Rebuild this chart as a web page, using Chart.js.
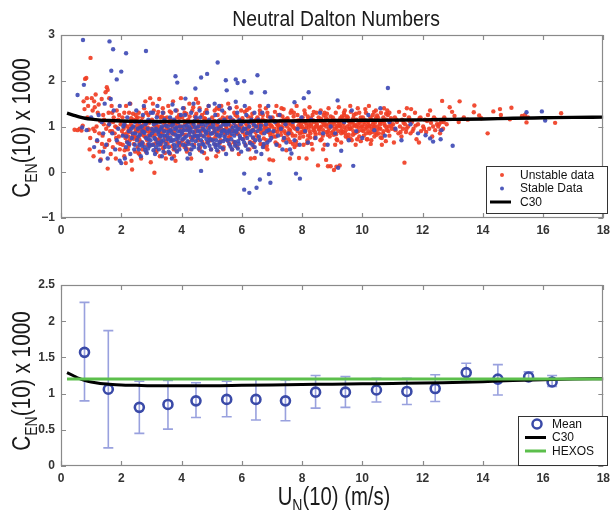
<!DOCTYPE html>
<html><head><meta charset="utf-8">
<script src="https://cdn.jsdelivr.net/npm/chart.js@4/dist/chart.umd.min.js"></script>
<style>html,body{margin:0;padding:0;background:#fff;}#wrap{position:relative;width:615px;height:510px;overflow:hidden;}canvas{position:absolute;left:0;}</style>
</head><body><div id="wrap"><canvas id="cTop" width="615" height="255" style="top:0"></canvas><canvas id="cBot" width="615" height="255" style="top:255px"></canvas></div>
<script>
const chartTitle = 'Neutral Dalton Numbers';
const xTickVals = [0,2,4,6,8,10,12,14,16,18];
const yTickTop = [-1,0,1,2,3];
const yTickBot = [0,0.5,1,1.5,2,2.5];
const legendTop = ['Unstable data','Stable Data','C30'];
const legendBot = ['Mean','C30','HEXOS'];

// C30 curve
const c30U = [0.2,0.4,0.6,0.8,1.0,1.3,1.6,2,2.5,3,4,5,6,7,8,9,10,11,12,13,14,15,16,17,18];
const c30C = [1.29,1.25,1.21,1.18,1.16,1.14,1.13,1.12,1.115,1.11,1.11,1.11,1.115,1.12,1.125,1.13,1.135,1.14,1.145,1.155,1.165,1.18,1.19,1.2,1.205];
// HEXOS
const hexosU = [0.2,18];
const hexosC = [1.2,1.2];
// bin means with error bars
const meanU = [0.78,1.57,2.6,3.55,4.48,5.5,6.47,7.45,8.45,9.44,10.47,11.48,12.42,13.45,14.5,15.52,16.3];
const meanC = [1.57,1.06,0.81,0.85,0.90,0.92,0.92,0.90,1.02,1.02,1.05,1.03,1.07,1.29,1.20,1.23,1.16];
const errHi = [2.26,1.87,1.17,1.18,1.15,1.17,1.20,1.19,1.25,1.235,1.21,1.21,1.26,1.42,1.40,1.30,1.25];
const errLo = [0.90,0.25,0.45,0.51,0.67,0.68,0.635,0.625,0.80,0.81,0.885,0.85,0.89,1.17,0.98,1.19,1.10];

// unstable data [U, C]
const unstableA = [[0.45,0.93],[0.55,0.92],[0.62,0.95],[0.68,0.91],[0.72,1.02],[0.78,1.38],[0.8,2.04],[0.84,2.06],[0.86,1.62],[0.9,1.45],[0.92,0.93],[0.95,0.5],[0.98,2.5],[0.75,1.55],[0.88,1.2],[0.97,0.75],
[1.02,1.62],[1.05,1.35],[1.08,0.35],[1.1,1.55],[1.12,0.9],[1.15,1.7],[1.18,1.0],[1.2,0.68],[1.22,1.3],[1.25,1.48],[1.28,0.45],[1.3,1.12],[1.32,0.28],[1.35,1.6],[1.38,0.8],[1.4,1.25],[1.42,1.05],[1.45,0.55],[1.48,1.75],[1.5,0.95],[1.12,1.42],[1.36,0.62],
[1.52,1.86],[1.55,1.8],[1.55,0.08],[1.58,1.3],[1.6,0.7],[1.62,1.1],[1.65,0.4],[1.68,1.45],[1.7,0.9],[1.72,0.55],[1.75,1.2],[1.78,0.85],[1.8,1.0],[1.82,0.3],[1.85,1.35],[1.88,0.65],[1.9,1.15],[1.92,0.78],[1.95,0.5],[1.98,1.05],[1.6,1.62],[1.7,1.3],[1.85,0.98],
[2.02,0.9],[2.04,1.2],[2.05,0.6],[2.08,0.95],[2.1,0.35],[2.12,1.1],[2.14,0.75],[2.16,1.45],[2.18,0.85],[2.2,1.0],[2.22,0.5],[2.24,0.92],[2.26,1.3],[2.28,0.7],[2.3,0.88],[2.32,1.05],[2.34,0.25],[2.36,0.06],[2.38,0.8],[2.4,1.15],[2.42,0.62],[2.44,0.97],[2.46,0.45],[2.48,1.25],[2.1,1.3],[2.25,0.58],[2.35,1.0],[2.45,0.78],[2.15,0.2],[2.3,1.5],
[2.5,0.9],[2.52,1.1],[2.54,0.55],[2.56,0.95],[2.58,1.3],[2.6,0.72],[2.62,0.88],[2.64,1.02],[2.66,0.3],[2.68,0.84],[2.7,1.2],[2.72,0.62],[2.74,0.96],[2.76,1.4],[2.78,0.78],[2.8,0.92],[2.82,0.45],[2.84,1.08],[2.86,0.7],[2.88,0.98],[2.9,1.25],[2.92,0.58],[2.94,0.86],[2.96,1.62],[2.98,0.22],[2.55,1.2],[2.65,0.66],[2.75,1.05],[2.85,0.9],[2.95,1.12],[2.6,0.4],[2.8,1.55],[2.7,0.5],[2.9,0.8],[2.52,0.75],
[3.0,0.95],[3.02,1.15],[3.04,0.6],[3.06,0.9],[3.08,1.35],[3.1,-0.01],[3.12,0.82],[3.14,1.05],[3.16,0.48],[3.18,0.92],[3.2,1.25],[3.22,0.7],[3.24,1.0],[3.26,1.6],[3.28,0.35],[3.3,0.86],[3.32,1.1],[3.34,0.65],[3.36,0.97],[3.38,1.4],[3.4,0.55],[3.42,0.9],[3.44,1.18],[3.46,0.76],[3.48,1.02],[3.05,1.5],[3.15,0.72],[3.25,0.88],[3.35,1.22],[3.45,0.42],[3.1,1.02],[3.3,0.6],[3.2,0.95],[3.4,1.3],[3.48,0.3],
[3.5,0.95],[3.52,1.2],[3.54,0.62],[3.56,1.45],[3.58,0.85],[3.6,1.05],[3.62,0.4],[3.64,0.92],[3.66,1.3],[3.68,0.7],[3.7,1.0],[3.72,1.55],[3.74,0.5],[3.76,0.88],[3.78,1.12],[3.8,0.25],[3.82,0.96],[3.84,1.35],[3.86,0.66],[3.88,1.04],[3.9,0.8],[3.92,1.25],[3.94,0.58],[3.96,0.98],[3.98,1.62],[3.55,0.75],[3.65,1.1],[3.75,0.35],[3.85,1.2],[3.95,0.9]];
const unstableB = [[4.0,1.0],[4.02,1.2],[4.04,0.7],[4.06,0.92],[4.08,1.4],[4.1,0.55],[4.12,1.05],[4.14,0.82],[4.16,1.28],[4.18,0.45],[4.2,0.95],[4.22,1.15],[4.24,0.66],[4.26,1.5],[4.28,0.88],[4.3,1.08],[4.32,0.3],[4.34,0.98],[4.36,1.35],[4.38,0.75],[4.4,1.02],[4.42,0.6],[4.44,1.22],[4.46,0.9],[4.48,1.6],[4.1,1.3],[4.3,0.5],[4.45,0.78],
[4.5,0.95],[4.52,1.15],[4.55,0.7],[4.58,1.05],[4.6,1.4],[4.62,0.55],[4.65,0.9],[4.68,1.25],[4.7,0.8],[4.72,1.0],[4.75,0.42],[4.78,1.3],[4.8,0.88],[4.82,1.1],[4.85,0.65],[4.88,0.97],[4.9,1.45],[4.92,0.76],[4.95,1.05],[4.98,0.5],[4.6,1.0],[4.75,1.18],[4.9,0.85],[4.55,1.52],[4.85,0.3],
[5.0,1.0],[5.02,1.2],[5.05,0.72],[5.08,0.95],[5.1,1.35],[5.12,0.6],[5.15,1.08],[5.18,0.85],[5.2,1.25],[5.22,0.45],[5.25,0.98],[5.28,1.15],[5.3,0.7],[5.32,1.45],[5.35,0.9],[5.38,1.05],[5.4,0.55],[5.42,1.3],[5.45,0.82],[5.48,1.0],[5.1,0.88],[5.25,1.38],[5.4,0.92],[5.15,0.35],[5.45,1.15],
[5.5,0.95],[5.52,1.2],[5.55,0.68],[5.58,1.05],[5.6,1.4],[5.62,0.8],[5.65,1.0],[5.68,0.5],[5.7,1.15],[5.72,0.9],[5.75,1.3],[5.78,0.62],[5.8,1.02],[5.82,0.85],[5.85,1.22],[5.88,0.96],[5.9,0.4],[5.92,1.1],[5.95,0.75],[5.98,1.35],[5.6,0.88],[5.75,1.08],[5.9,0.98],[5.55,1.5],[5.85,0.55],
[6.0,1.0],[6.02,1.18],[6.05,0.72],[6.08,0.94],[6.1,1.32],[6.12,0.6],[6.15,1.05],[6.18,0.85],[6.2,1.22],[6.22,0.98],[6.25,0.5],[6.28,1.1],[6.3,0.3],[6.32,0.9],[6.35,1.28],[6.38,0.75],[6.4,1.02],[6.43,0.31],[6.45,0.88],[6.48,1.15],[6.1,0.82],[6.25,1.4],[6.4,0.65],[6.15,0.95],[6.35,1.08],
[6.5,1.0],[6.52,1.2],[6.55,0.75],[6.58,0.95],[6.6,1.35],[6.62,0.62],[6.65,1.05],[6.68,0.85],[6.7,1.25],[6.72,0.92],[6.75,0.55],[6.78,1.12],[6.8,0.98],[6.82,0.7],[6.85,1.3],[6.88,0.88],[6.9,1.05],[6.92,0.28],[6.95,0.8],[6.98,1.18],[6.6,1.45],[6.7,0.6],[6.8,1.4],[6.9,0.95],[6.55,1.1],[6.75,1.0],[6.85,0.5],
[7.0,1.0],[7.02,1.2],[7.04,0.26],[7.06,0.78],[7.08,0.95],[7.1,1.32],[7.12,0.65],[7.15,1.06],[7.18,0.88],[7.2,1.25],[7.22,0.95],[7.25,0.58],[7.28,1.12],[7.3,0.82],[7.32,1.4],[7.35,0.98],[7.38,0.7],[7.4,1.15],[7.42,0.9],[7.45,1.05],[7.48,0.48],[7.1,0.9],[7.2,1.05],[7.3,1.0],[7.4,0.75],[7.15,1.45],[7.35,1.22],[7.45,0.85],
[7.5,1.0],[7.52,1.18],[7.55,0.72],[7.58,0.94],[7.6,0.3],[7.62,1.3],[7.65,0.85],[7.68,1.05],[7.7,0.62],[7.72,1.22],[7.75,0.96],[7.78,0.8],[7.8,1.12],[7.82,1.45],[7.85,0.9],[7.88,1.02],[7.9,0.31],[7.92,0.75],[7.95,1.15],[7.98,0.88],[7.55,1.08],[7.65,1.35],[7.75,0.55],[7.85,1.25],[7.95,0.98],[7.6,0.92],[7.8,0.68],[7.7,1.0],[7.9,1.1],[7.52,0.82]];
const unstableC = [[8.0,1.0],[8.02,1.2],[8.04,0.78],[8.06,0.95],[8.08,1.35],[8.1,0.88],[8.12,1.08],[8.15,0.3],[8.18,0.7],[8.2,1.15],[8.22,0.98],[8.25,1.42],[8.28,0.85],[8.3,1.05],[8.32,0.62],[8.35,1.25],[8.38,0.92],[8.4,1.1],[8.42,0.75],[8.45,1.0],[8.48,1.3],[8.05,0.6],[8.15,1.02],[8.25,0.9],[8.35,0.5],[8.45,0.82],[8.1,1.28],[8.3,1.18],[8.4,0.96],[8.2,0.8],
[8.5,1.02],[8.53,0.15],[8.55,1.2],[8.58,0.85],[8.6,0.98],[8.62,1.35],[8.65,0.72],[8.68,1.1],[8.7,0.92],[8.72,1.25],[8.75,0.6],[8.78,1.05],[8.8,0.27],[8.82,0.88],[8.85,1.15],[8.86,0.13],[8.88,1.4],[8.9,0.96],[8.92,0.78],[8.95,0.13],[8.98,1.08],[8.55,0.95],[8.65,1.0],[8.75,1.3],[8.85,0.82],[8.95,1.22],[8.6,1.12],[8.8,1.0],[8.7,0.5],[8.9,1.05],
[9.0,1.0],[9.02,1.2],[9.06,0.05],[9.05,0.82],[9.08,1.05],[9.1,0.95],[9.12,1.3],[9.14,0.12],[9.15,0.72],[9.18,1.12],[9.2,0.9],[9.22,1.42],[9.25,0.15],[9.28,1.0],[9.3,0.65],[9.32,1.22],[9.35,0.88],[9.38,1.08],[9.4,0.98],[9.42,1.35],[9.45,0.78],[9.48,1.15],[9.05,1.1],[9.15,0.98],[9.25,1.02],[9.35,1.18],[9.45,0.92],[9.1,0.6],[9.3,0.85],[9.4,1.25],
[9.5,1.0],[9.52,1.2],[9.55,0.82],[9.58,1.05],[9.6,0.95],[9.62,1.32],[9.65,0.7],[9.68,1.1],[9.7,0.9],[9.72,1.25],[9.75,1.02],[9.78,0.6],[9.8,1.15],[9.82,0.88],[9.85,1.4],[9.88,0.98],[9.9,0.78],[9.92,1.08],[9.95,1.2],[9.98,0.92],[9.55,1.12],[9.65,0.98],[9.75,0.85],[9.85,1.05],[9.95,0.68],[9.6,1.45],[9.8,1.0],[9.7,1.18],[9.9,1.3],[9.52,0.75],
[10.0,1.0],[10.02,1.2],[10.05,0.8],[10.08,1.05],[10.1,0.95],[10.12,1.3],[10.15,0.72],[10.18,1.12],[10.2,0.9],[10.22,1.45],[10.25,1.02],[10.28,0.62],[10.3,1.15],[10.32,0.88],[10.35,1.25],[10.38,0.98],[10.4,0.78],[10.42,1.08],[10.45,1.35],[10.48,0.92],[10.05,1.1],[10.15,0.98],[10.25,0.85],[10.35,1.05],[10.45,1.18],[10.1,1.38],[10.3,0.7],[10.4,1.0],[10.2,1.1],[10.48,0.82],
[10.5,1.0],[10.52,1.2],[10.55,0.85],[10.58,1.08],[10.6,0.95],[10.62,1.3],[10.65,0.75],[10.68,1.12],[10.7,0.9],[10.72,1.4],[10.75,1.02],[10.78,0.68],[10.8,1.15],[10.82,0.92],[10.85,1.25],[10.88,1.0],[10.9,0.8],[10.92,1.08],[10.95,1.18],[10.98,0.95],[10.6,1.05],[10.7,1.2],[10.8,0.98],[10.9,1.3],[10.65,0.6],
[11.02,1.05],[11.05,0.65],[11.08,1.2],[11.1,0.92],[11.15,1.1],[11.2,0.85],[11.22,1.32],[11.25,1.0],[11.3,0.78],[11.32,1.15],[11.35,0.95],[11.4,1.25],[11.4,0.21],[11.42,1.05],[11.45,0.88],[11.48,1.4],
[11.52,1.0],[11.55,1.2],[11.6,0.85],[11.65,1.1],[11.7,0.95],[11.75,1.3],[11.8,0.72],[11.85,1.05],[11.9,1.18],[11.95,0.9],[11.62,1.38],[11.88,0.65],
[12.02,1.0],[12.08,1.15],[12.12,0.88],[12.18,1.25],[12.22,0.95],[12.28,1.08],[12.32,0.78],[12.38,1.2],[12.42,0.92],[12.48,1.05],[12.25,1.35],
[12.52,1.0],[12.58,0.85],[12.62,1.1],[12.65,1.56],[12.68,0.95],[12.72,1.2],[12.8,1.05],[12.9,1.42],[12.98,1.32],
[13.06,1.23],[13.23,1.55],[13.37,1.2],[13.5,1.15],[13.7,1.31],[13.72,1.46],[13.88,1.24],[14.16,0.85],[14.35,1.33],[14.57,1.38],[14.6,1.25],[14.9,1.16],[14.95,1.41],[15.3,1.23],[15.4,1.25],[15.45,1.09],[15.5,1.2],[16.4,1.08],[16.6,1.29],[13.2,1.1],[13.95,1.18]];
const unstableD = [[1.07,0.95],[1.27,0.85],[1.43,1.15],[1.53,0.6],[1.63,0.9],[1.73,1.1],[1.83,0.75],[1.93,1.25],[1.97,0.62],[1.57,1.02],
[2.07,0.83],[2.13,1.02],[2.19,0.67],[2.27,0.95],[2.33,1.18],[2.41,0.73],[2.47,0.88],[2.53,1.03],[2.61,0.64],[2.67,1.12],[2.73,0.81],[2.79,0.99],[2.87,0.6],[2.93,1.08],[2.97,0.9],[2.11,0.48],[2.39,1.28],[2.57,0.42],[2.83,1.3],[2.69,0.93],[2.23,0.78],[2.51,1.17],
[3.03,0.8],[3.09,1.1],[3.13,0.63],[3.19,0.98],[3.27,0.74],[3.31,1.2],[3.37,0.85],[3.43,1.04],[3.49,0.68],[3.57,0.93],[3.63,1.15],[3.69,0.57],[3.73,0.83],[3.79,1.06],[3.87,0.77],[3.93,1.19],[3.97,0.64],[3.17,0.44],[3.39,0.52],[3.61,1.33],[3.83,0.47],[3.23,1.32],
[4.03,0.83],[4.09,1.12],[4.13,0.62],[4.19,0.97],[4.27,1.22],[4.31,0.76],[4.37,1.06],[4.43,0.86],[4.49,1.28],[4.57,0.8],[4.63,1.1],[4.69,0.66],[4.73,0.92],[4.79,1.17],[4.87,0.82],[4.93,1.02],[4.97,0.7],[4.17,0.52],[4.39,1.42],[4.61,0.48],[4.83,1.36],[4.23,0.95],
[5.03,0.86],[5.09,1.12],[5.13,0.78],[5.19,1.03],[5.27,0.64],[5.31,0.95],[5.37,1.2],[5.43,0.87],[5.49,1.08],[5.57,0.76],[5.63,1.14],[5.69,0.92],[5.73,0.66],[5.79,1.25],[5.87,0.84],[5.93,1.05],[5.97,0.93],[5.17,1.4],[5.39,0.5],[5.61,0.6],[5.83,1.42],[5.23,0.92],
[6.03,0.88],[6.09,1.1],[6.13,0.79],[6.19,1.04],[6.27,0.66],[6.31,1.2],[6.37,0.93],[6.43,1.12],[6.49,0.8],[6.57,1.04],[6.63,0.88],[6.69,1.16],[6.73,0.74],[6.79,0.97],[6.87,1.22],[6.93,0.86],[6.97,1.03],[6.17,1.36],[6.39,0.55],[6.61,1.28],[6.83,0.58],[6.23,0.9],
[7.03,0.87],[7.09,1.12],[7.13,0.78],[7.19,1.02],[7.27,1.25],[7.31,0.9],[7.37,1.08],[7.43,0.74],[7.49,1.16],[7.57,0.88],[7.63,1.04],[7.69,0.8],[7.73,1.3],[7.79,0.95],[7.87,1.13],[7.93,0.84],[7.97,1.06],[7.17,0.62],[7.39,1.38],[7.61,0.66],[7.83,0.6],[7.23,0.98],
[8.03,0.88],[8.09,1.1],[8.13,0.95],[8.19,1.22],[8.27,0.76],[8.31,1.0],[8.37,1.14],[8.43,0.88],[8.49,1.06],[8.57,0.93],[8.63,1.17],[8.69,0.8],[8.73,1.04],[8.79,1.2],[8.87,0.9],[8.93,1.1],[8.97,0.86],[8.17,0.64],[8.39,1.32],[8.61,0.7],[8.83,1.28],[8.23,1.05],
[9.03,0.9],[9.09,1.13],[9.13,0.83],[9.19,1.02],[9.27,1.18],[9.31,0.92],[9.37,1.06],[9.43,0.85],[9.49,1.22],[9.57,0.95],[9.63,1.1],[9.69,0.82],[9.73,1.04],[9.79,1.28],[9.87,0.9],[9.93,1.12],[9.97,1.0],[9.17,0.7],[9.39,1.3],[9.61,0.74],[9.83,0.72],[9.23,1.08],
[10.03,0.9],[10.09,1.14],[10.13,0.85],[10.19,1.03],[10.27,1.2],[10.31,0.95],[10.37,1.1],[10.43,0.86],[10.49,1.24],[10.57,0.96],[10.63,1.12],[10.69,0.84],[10.73,1.06],[10.79,1.28],[10.87,0.9],[10.93,1.14],[10.97,1.02],[10.17,0.72],[10.39,1.32],[10.61,0.76],[10.83,1.35],[10.23,1.0],
[11.07,0.95],[11.13,1.15],[11.27,0.88],[11.37,1.08],[11.47,0.95],[11.57,1.12],[11.67,0.9],[11.77,1.02],[11.93,1.2],[12.05,0.95],[12.15,1.12],[12.35,1.0],[12.45,1.15],[12.55,1.05],[12.6,0.92],[12.7,1.1]];

// stable data [U, C]
const stableA = [[0.73,2.89],[1.61,2.86],[1.73,2.69],[2.16,2.6],[2.82,2.65],[1.67,2.22],[2.0,2.2],[1.85,2.03],[0.76,1.91],[0.55,1.69],
[0.7,0.98],[0.85,0.92],[1.0,1.2],[1.1,0.55],[1.2,0.7],[1.25,1.25],[1.35,1.1],[1.45,1.5],[1.5,0.6],[1.6,1.05],[1.7,0.85],[1.75,1.35],[1.8,0.5],[1.9,0.95],[1.95,1.45],[1.65,1.6],[1.4,0.85],[1.85,0.7],[2.0,0.2],[1.95,0.25],[1.55,0.3],[1.3,0.25],[1.4,0.45],
[2.05,0.8],[2.1,1.05],[2.15,0.55],[2.2,1.2],[2.25,0.9],[2.3,0.4],[2.35,0.75],[2.4,1.0],[2.45,0.6],[2.5,1.35],[2.12,0.3],[2.28,1.5],[2.38,0.85],[2.45,1.1],[2.2,0.65],
[2.52,0.7],[2.55,0.95],[2.58,0.5],[2.6,1.1],[2.62,0.82],[2.65,0.35],[2.68,1.0],[2.7,0.65],[2.72,1.25],[2.75,0.88],[2.78,0.55],[2.8,1.05],[2.82,0.75],[2.85,0.42],[2.88,0.95],[2.9,1.15],[2.92,0.62],[2.95,0.8],[2.98,1.3],[2.6,0.6],[2.7,0.9],[2.8,0.48],[2.9,0.72],[2.75,1.45],[2.95,0.58],
[3.02,0.85],[3.05,0.6],[3.08,1.05],[3.1,0.75],[3.12,0.4],[3.15,0.95],[3.18,1.2],[3.2,0.65],[3.22,0.88],[3.25,0.5],[3.28,1.1],[3.3,0.78],[3.32,0.95],[3.35,0.35],[3.38,1.3],[3.4,0.7],[3.42,0.9],[3.45,0.55],[3.48,1.02],[3.05,1.3],[3.15,0.55],[3.25,0.82],[3.35,1.0],[3.45,0.8],[3.2,1.45],[3.4,0.45],[3.3,0.62],[3.1,0.9],
[3.52,0.8],[3.55,1.0],[3.58,0.55],[3.6,0.9],[3.62,1.2],[3.65,0.68],[3.68,0.3],[3.7,0.85],[3.72,1.05],[3.75,0.6],[3.78,0.95],[3.8,1.35],[3.82,0.72],[3.85,0.45],[3.88,0.9],[3.9,1.1],[3.92,0.65],[3.95,0.8],[3.98,1.25],[3.55,0.72],[3.65,0.92],[3.75,1.15],[3.85,0.58],[3.95,1.0],[3.6,0.42],[3.8,0.82],[3.7,1.48],[3.9,0.75],[3.8,2.1],[3.86,1.96]];
const stableB = [[4.02,0.85],[4.05,0.6],[4.08,1.0],[4.1,0.75],[4.12,1.25],[4.15,0.5],[4.18,0.92],[4.2,0.68],[4.22,1.1],[4.25,0.82],[4.28,0.4],[4.3,0.95],[4.32,1.3],[4.35,0.7],[4.38,0.88],[4.4,1.05],[4.42,0.55],[4.45,0.8],[4.48,1.2],[4.05,1.4],[4.15,0.78],[4.25,1.0],[4.35,0.6],[4.45,0.98],[4.2,0.3],[4.4,1.5],[4.13,1.61],[4.46,1.83],
[4.52,0.8],[4.55,1.0],[4.58,0.6],[4.6,0.9],[4.62,1.2],[4.65,0.7],[4.68,0.45],[4.7,0.95],[4.72,1.1],[4.75,0.78],[4.78,0.55],[4.8,1.02],[4.82,0.85],[4.85,1.3],[4.88,0.65],[4.9,0.92],[4.92,1.15],[4.95,0.72],[4.98,0.5],[4.6,1.35],[4.7,0.62],[4.8,0.88],[4.9,1.45],[4.55,0.75],[4.95,0.98],[4.65,0.03],[4.65,2.07],[4.85,2.15],
[5.02,0.85],[5.05,1.05],[5.08,0.62],[5.1,0.9],[5.12,1.25],[5.15,0.7],[5.18,0.48],[5.2,0.95],[5.22,1.1],[5.25,0.78],[5.28,0.55],[5.3,1.0],[5.32,0.85],[5.35,1.35],[5.38,0.68],[5.4,0.92],[5.42,1.15],[5.45,0.72],[5.48,0.4],[5.1,1.5],[5.2,0.6],[5.3,0.8],[5.4,1.05],[5.25,1.45],[5.45,0.9],[5.2,2.4],[5.47,2.01],
[5.52,0.85],[5.55,1.05],[5.58,0.62],[5.6,0.92],[5.62,1.2],[5.65,0.72],[5.68,0.5],[5.7,0.98],[5.72,1.12],[5.75,0.8],[5.78,0.58],[5.8,1.0],[5.82,0.88],[5.85,1.3],[5.88,0.68],[5.9,0.95],[5.92,1.15],[5.95,0.75],[5.98,0.45],[5.6,1.4],[5.75,0.9],[5.9,0.62],[5.8,2.03],[5.86,1.95],[5.5,1.79],[5.8,1.54],
[6.02,0.9],[6.05,1.1],[6.08,0.65],[6.12,0.95],[6.15,1.25],[6.18,0.75],[6.2,0.5],[6.25,1.0],[6.28,0.82],[6.32,1.15],[6.35,0.6],[6.38,0.92],[6.42,1.3],[6.45,0.7],[6.48,0.45],[6.1,1.45],[6.3,0.88],[6.4,1.05],[6.52,2.12],[6.08,1.99],[6.32,1.74],[6.08,-0.38],[6.25,-0.45],[6.49,-0.34],[6.08,-0.03],
[6.52,0.9],[6.55,1.15],[6.6,0.7],[6.62,0.95],[6.68,1.3],[6.7,0.55],[6.75,0.85],[6.8,1.05],[6.85,0.65],[6.9,0.92],[6.95,1.2],[6.98,0.75],[6.65,0.4],[6.88,1.45],[6.77,1.75],[6.6,-0.16],[6.9,-0.04],[6.95,-0.23]];
const stableC = [[7.05,0.9],[7.1,1.1],[7.15,0.6],[7.2,0.8],[7.25,1.25],[7.3,0.95],[7.35,0.5],[7.4,0.75],[7.45,1.05],[7.48,0.65],
[7.55,0.85],[7.6,0.5],[7.65,0.41],[7.7,1.1],[7.75,0.7],[7.85,0.95],[7.92,0.6],[7.98,1.2],[7.75,1.53],[7.8,-0.03],[7.93,-0.14],
[8.1,0.9],[8.2,0.65],[8.3,1.15],[8.45,0.75],[8.6,1.3],[8.7,0.85],[8.85,0.6],[8.95,1.0],[8.22,1.75],[8.06,1.62],
[9.1,0.85],[9.3,0.47],[9.4,1.1],[9.55,0.7],[9.65,1.35],[9.8,0.9],[9.18,1.57],[9.7,0.14],[9.2,0.1],
[10.0,0.75],[10.2,1.25],[10.4,0.92],[10.6,1.4],[10.75,0.8],[10.9,1.1],[10.85,1.84],[11.1,0.95],[11.3,0.7],[11.6,1.05],[11.85,0.85],
[12.1,0.81],[12.25,0.74],[12.35,0.67],[12.6,0.72],[12.63,0.92],[13.0,0.58],[15.45,1.31],[15.96,1.33],[16.07,1.13]];
const stableD = [[2.07,1.0],[2.17,0.78],[2.27,0.62],[2.33,0.95],[2.43,0.5],[2.47,0.85],
[2.57,0.78],[2.63,0.98],[2.69,0.58],[2.77,0.86],[2.83,1.08],[2.89,0.52],[2.97,0.7],[3.03,0.94],[3.07,0.48],[3.13,0.72],[3.17,1.08],[3.23,0.6],[3.27,0.92],[3.33,0.68],[3.37,0.8],[3.43,1.15],[3.47,0.62],
[3.53,0.88],[3.57,0.45],[3.63,0.76],[3.67,1.02],[3.73,0.7],[3.77,0.52],[3.83,0.98],[3.87,0.8],[3.93,0.5],[3.97,0.9],[4.03,0.72],[4.07,0.92],[4.13,0.58],[4.17,1.02],[4.23,0.62],[4.27,0.9],[4.33,0.5],[4.37,0.78],[4.43,1.12],[4.47,0.68],
[4.53,0.9],[4.57,0.52],[4.63,0.82],[4.67,1.05],[4.73,0.6],[4.77,0.92],[4.83,0.72],[4.87,1.08],[4.93,0.58],[4.97,0.84],[5.03,0.7],[5.07,0.98],[5.13,0.55],[5.17,0.82],[5.23,1.12],[5.27,0.66],[5.33,0.9],[5.37,0.52],[5.43,0.78],[5.47,1.04],
[5.53,0.7],[5.57,0.9],[5.63,0.56],[5.67,0.84],[5.73,1.08],[5.77,0.66],[5.83,0.92],[5.87,0.52],[5.93,0.8],[5.97,1.05],[6.03,0.72],[6.07,0.95],[6.13,0.58],[6.17,0.86],[6.23,1.1],[6.27,0.64],[6.33,0.9],[6.37,0.76],[6.43,0.55],[6.47,1.0],
[6.57,0.78],[6.63,1.02],[6.73,0.62],[6.83,0.9],[6.93,0.7]];

const FONT = "'Liberation Sans', Arial, Helvetica, sans-serif";
const RED = 'rgba(240,62,36,0.92)';
const BLUE = 'rgba(64,76,182,0.92)';
const GREEN = '#5cbf4c';
const ERRC = 'rgba(128,138,214,0.8)';
const MEANC = '#3a4aa8';

const toXY = arr => arr.map(p => ({x:p[0], y:p[1]}));
const zipXY = (xs, ys) => xs.map((x,i) => ({x:x, y:ys[i]}));

function drawParts(ctx, parts, sx){
  let w = 0;
  parts.forEach(p => { ctx.font = p.size + 'px ' + FONT; p.w = ctx.measureText(p.t).width; w += p.w; });
  ctx.scale(sx, 1);
  let x = -w/2;
  ctx.textAlign = 'left'; ctx.textBaseline = 'alphabetic';
  parts.forEach(p => { ctx.font = p.size + 'px ' + FONT; ctx.fillText(p.t, x, p.dy); x += p.w; });
}

function deco(cfg){
  return {
    id: 'deco',
    beforeDatasetsDraw(chart){
      if (!cfg.err) return;
      const ctx = chart.ctx, xs = chart.scales.x, ys = chart.scales.y;
      ctx.save();
      ctx.strokeStyle = ERRC; ctx.lineWidth = 1.6;
      meanU.forEach((u,i) => {
        const px = xs.getPixelForValue(u);
        const ph = ys.getPixelForValue(errHi[i]), pl = ys.getPixelForValue(errLo[i]);
        ctx.beginPath();
        ctx.moveTo(px, ph); ctx.lineTo(px, pl);
        ctx.moveTo(px-5, ph); ctx.lineTo(px+5, ph);
        ctx.moveTo(px-5, pl); ctx.lineTo(px+5, pl);
        ctx.stroke();
      });
      ctx.restore();
    },
    afterDraw(chart){
      const ctx = chart.ctx, a = chart.chartArea, xs = chart.scales.x, ys = chart.scales.y;
      ctx.save();
      ctx.strokeStyle = '#8a8a8a'; ctx.lineWidth = 1.2;
      ctx.strokeRect(Math.round(a.left)+0.5, Math.round(a.top)+0.5, Math.round(a.right-a.left)-1, Math.round(a.bottom-a.top)-1);
      ctx.beginPath();
      xTickVals.forEach(v => { const p = Math.round(xs.getPixelForValue(v))+0.5;
        ctx.moveTo(p, a.bottom); ctx.lineTo(p, a.bottom-5); ctx.moveTo(p, a.top); ctx.lineTo(p, a.top+5); });
      cfg.yTicks.forEach(v => { const p = Math.round(ys.getPixelForValue(v))+0.5;
        ctx.moveTo(a.left, p); ctx.lineTo(a.left+5, p); ctx.moveTo(a.right, p); ctx.lineTo(a.right-5, p); });
      ctx.stroke();
      ctx.fillStyle = '#1a1a1a';
      if (cfg.title){
        ctx.save(); ctx.translate(336, 26);
        drawParts(ctx, [{t:cfg.title, size:22, dy:0}], 0.88);
        ctx.restore();
      }
      ctx.save(); ctx.translate(30, cfg.yTitleC); ctx.rotate(-Math.PI/2);
      drawParts(ctx, [{t:'C', size:25, dy:0},{t:'EN', size:17, dy:7},{t:'(10) x 1000', size:25, dy:0}], 0.83);
      ctx.restore();
      if (cfg.xTitle){
        ctx.save(); ctx.translate(334, 250);
        drawParts(ctx, [{t:'U', size:26, dy:0},{t:'N', size:18, dy:7},{t:'(10) (m/s)', size:26, dy:0}], 0.78);
        ctx.restore();
      }
      const L = cfg.legend;
      ctx.fillStyle = '#fff'; ctx.fillRect(L.x, L.y, L.w, L.h);
      ctx.strokeStyle = '#333'; ctx.lineWidth = 1;
      ctx.strokeRect(L.x+0.5, L.y+0.5, L.w, L.h);
      ctx.font = '12px ' + FONT; ctx.textBaseline = 'middle'; ctx.textAlign = 'left';
      L.items.forEach((it, i) => {
        const y = L.y + L.first + i*L.step;
        if (it.kind === 'dot'){ ctx.fillStyle = it.color; ctx.beginPath(); ctx.arc(L.mx, y, 2, 0, Math.PI*2); ctx.fill(); }
        else if (it.kind === 'line'){ ctx.strokeStyle = it.color; ctx.lineWidth = 3; ctx.beginPath(); ctx.moveTo(L.mx-12, y); ctx.lineTo(L.mx+9, y); ctx.stroke(); }
        else { ctx.strokeStyle = it.color; ctx.lineWidth = 2.5; ctx.beginPath(); ctx.arc(L.mx, y, 4.5, 0, Math.PI*2); ctx.stroke(); }
        ctx.fillStyle = '#111'; ctx.fillText(it.text, L.tx, y+0.5);
      });
      ctx.restore();
    }
  };
}

function scaleOpts(min, max, step, yAxis, fmt){
  return {
    type: 'linear', min: min, max: max,
    grid: { display: false, drawTicks: false },
    border: { display: false },
    ticks: { stepSize: step, autoSkip: false, padding: yAxis ? 6 : 5, color: '#333', font: { family: FONT, size: 12, weight: 'bold' },
      callback: fmt || (v => String(v)), maxRotation: 0 }
  };
}

const minusFmt = v => v < 0 ? '\u2212' + Math.abs(v) : String(v);

const xTop = scaleOpts(0, 18, 2, false); xTop.afterFit = s => { s.height = 37; };
const yTop = scaleOpts(-1, 3, 1, true, minusFmt); yTop.afterFit = s => { s.width = 61; };
new Chart(document.getElementById('cTop'), {
  type: 'scatter',
  data: { datasets: [
    { type:'line', label: legendTop[2], data: zipXY(c30U, c30C), borderColor:'#000', borderWidth:3.4, pointRadius:0, tension:0.4, cubicInterpolationMode:'monotone', fill:false },
    { label: legendTop[1], data: toXY(stableA.concat(stableB, stableC, stableD)), backgroundColor: BLUE, borderWidth:0, pointRadius:2.2 },
    { label: legendTop[0], data: toXY(unstableA.concat(unstableB, unstableC, unstableD)), backgroundColor: RED, borderWidth:0, pointRadius:2.2 }
  ]},
  options: {
    responsive:false, animation:false, devicePixelRatio:1,
    layout: { padding: { top:35, right:7, left:0, bottom:0 } },
    plugins: { legend:{display:false}, tooltip:{enabled:false} },
    scales: { x: xTop, y: yTop }
  },
  plugins: [deco({ title: chartTitle, yTicks: yTickTop, yTitleC: 128, xTitle:false,
    legend: { x:486, y:166, w:121, h:47, first:9, step:13.5, mx:502, tx:520,
      items:[{kind:'dot',color:RED,text:legendTop[0]},{kind:'dot',color:BLUE,text:legendTop[1]},{kind:'line',color:'#000',text:legendTop[2]}] } })]
});

const xBot = scaleOpts(0, 18, 2, false); xBot.afterFit = s => { s.height = 44; };
const yBot = scaleOpts(0, 2.5, 0.5, true); yBot.afterFit = s => { s.width = 61; };
new Chart(document.getElementById('cBot'), {
  type: 'scatter',
  data: { datasets: [
    { type:'line', label: legendBot[2], data: zipXY(hexosU, hexosC), borderColor: GREEN, borderWidth:3, pointRadius:0, fill:false },
    { type:'line', label: legendBot[1], data: zipXY(c30U, c30C), borderColor:'#000', borderWidth:3, pointRadius:0, tension:0.4, cubicInterpolationMode:'monotone', fill:false },
    { label: legendBot[0], data: zipXY(meanU, meanC), pointStyle:'circle', pointRadius:4.5, borderWidth:2.6, borderColor: MEANC, backgroundColor:'rgba(0,0,0,0)' }
  ]},
  options: {
    responsive:false, animation:false, devicePixelRatio:1,
    layout: { padding: { top:30, right:7, left:0, bottom:0 } },
    plugins: { legend:{display:false}, tooltip:{enabled:false} },
    scales: { x: xBot, y: yBot }
  },
  plugins: [deco({ title: null, yTicks: yTickBot, yTitleC: 126, xTitle:true, err:true,
    legend: { x:518, y:161, w:89, h:49, first:8, step:13.5, mx:537, tx:552,
      items:[{kind:'circle',color:MEANC,text:legendBot[0]},{kind:'line',color:'#000',text:legendBot[1]},{kind:'line',color:GREEN,text:legendBot[2]}] } })]
});
</script>
</body></html>
